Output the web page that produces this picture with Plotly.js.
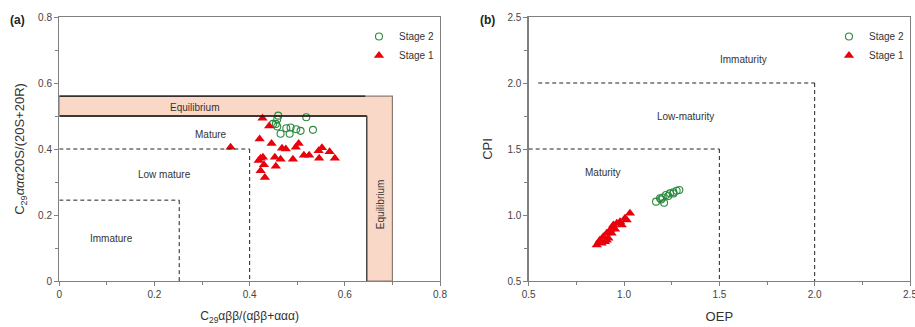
<!DOCTYPE html>
<html>
<head>
<meta charset="utf-8">
<script src="https://cdn.plot.ly/plotly-3.0.1.min.js"></script>
<style>html,body{margin:0;padding:0;background:#fff;}#chart{width:915px;height:327px;}</style>
</head>
<body>
<div id="chart"></div>
<script>
// ---- Panel (a): sterane isomerisation ratios ----
const aStage2X = [0.460, 0.458, 0.455, 0.458, 0.449, 0.519, 0.465, 0.477, 0.486, 0.484, 0.498, 0.507, 0.533];
const aStage2Y = [0.501, 0.490, 0.476, 0.468, 0.476, 0.496, 0.446, 0.463, 0.465, 0.446, 0.460, 0.455, 0.458];
const aStage1X = [0.427, 0.441, 0.421, 0.446, 0.468, 0.476, 0.497, 0.503, 0.423, 0.428, 0.430, 0.423, 0.432,
                  0.453, 0.455, 0.465, 0.491, 0.514, 0.525, 0.545, 0.552, 0.568, 0.579, 0.546, 0.360, 0.419];
const aStage1Y = [0.493, 0.470, 0.430, 0.417, 0.402, 0.400, 0.405, 0.417, 0.372, 0.375, 0.352, 0.334, 0.314,
                  0.375, 0.348, 0.369, 0.369, 0.381, 0.381, 0.395, 0.404, 0.392, 0.372, 0.372, 0.405, 0.365];

// ---- Panel (b): OEP vs CPI ----
const bStage2X = [1.168, 1.189, 1.210, 1.220, 1.241, 1.259, 1.276, 1.290, 1.232, 1.203, 1.259, 1.195];
const bStage2Y = [1.101, 1.127, 1.093, 1.152, 1.164, 1.172, 1.184, 1.189, 1.144, 1.133, 1.163, 1.118];
const bStage1X = [0.857, 0.874, 0.891, 0.909, 0.927, 0.944, 0.962, 0.979, 1.005, 1.031, 0.900, 0.918,
                  0.935, 0.953, 0.988, 0.883, 1.014, 0.909, 0.935, 0.870];
const bStage1Y = [0.773, 0.811, 0.836, 0.861, 0.886, 0.924, 0.937, 0.949, 0.975, 1.013, 0.798, 0.823,
                  0.861, 0.892, 0.924, 0.786, 0.962, 0.809, 0.897, 0.800];

// ---- zone boundaries ----
const aEqInner = 0.50, aEqOuter = 0.56, aEqXInner = 0.646, aEqXOuter = 0.70;
const aMatureY = 0.40, aMatureX = 0.40;
const aImmY = 0.245, aImmX = 0.252;
const bImmY = 2.0, bImmX = 2.0, bImmStart = 0.55;
const bMatY = 1.5, bMatX = 1.5;

const aTicks = [0, 0.2, 0.4, 0.6, 0.8];
const bTicks = [0.5, 1.0, 1.5, 2.0, 2.5];

const W = 915, H = 327;
const red = '#e8000b', green = '#2b8a3e';
const axisCol = '#808080';
const font = 'Liberation Sans, Arial, sans-serif';

function axisBase(dom, range, ticks, minorStep, fmt) {
  return {
    domain: dom, range: range, tickvals: ticks, ticktext: ticks.map(v => fmt ? v.toFixed(1) : String(v)),
    showgrid: false, zeroline: false, showline: true, mirror: true,
    linecolor: axisCol, linewidth: 1.3, ticks: 'outside', ticklen: 4, tickcolor: axisCol, tickwidth: 1,
    tickfont: {family: font, size: 10, color: '#444'}, ticklabeloverflow: 'allow',
    minor: {dtick: minorStep, ticks: 'outside', ticklen: 3, tickcolor: axisCol, showgrid: false},
    fixedrange: true
  };
}

const traces = [
  {x: aStage2X, y: aStage2Y, xaxis: 'x', yaxis: 'y', mode: 'markers', name: 'Stage 2', legend: 'legend',
   marker: {symbol: 'circle-open', size: 7, color: green, line: {width: 1.1, color: green}}},
  {x: aStage1X, y: aStage1Y, xaxis: 'x', yaxis: 'y', mode: 'markers', name: 'Stage 1', legend: 'legend',
   marker: {symbol: 'triangle-up', size: 9, color: red, line: {width: 0}}},
  {x: bStage2X, y: bStage2Y, xaxis: 'x2', yaxis: 'y2', mode: 'markers', name: 'Stage 2', legend: 'legend2',
   marker: {symbol: 'circle-open', size: 7, color: green, line: {width: 1.1, color: green}}},
  {x: bStage1X, y: bStage1Y, xaxis: 'x2', yaxis: 'y2', mode: 'markers', name: 'Stage 1', legend: 'legend2',
   marker: {symbol: 'triangle-up', size: 9, color: red, line: {width: 0}}}
];

const dashLine = {color: '#222', width: 1, dash: '4px,3px'};
const shapes = [
  // equilibrium band (L shape)
  {type: 'path', xref: 'x', yref: 'y', layer: 'below',
   path: `M0,${aEqInner} L${aEqXInner},${aEqInner} L${aEqXInner},0 L${aEqXOuter},0 L${aEqXOuter},${aEqOuter} L0,${aEqOuter} Z`,
   fillcolor: '#f9d8c8', line: {color: '#8a7a72', width: 1.2}},
  {type: 'line', xref: 'x', yref: 'y', x0: 0, x1: aEqXInner - 0.003, y0: aEqOuter, y1: aEqOuter, line: {color: '#111', width: 1.3}},
  {type: 'line', xref: 'x', yref: 'y', x0: 0, x1: aEqXInner, y0: aEqInner, y1: aEqInner, line: {color: '#111', width: 1.3}},
  {type: 'line', xref: 'x', yref: 'y', x0: aEqXInner, x1: aEqXInner, y0: aEqInner, y1: 0, line: {color: '#444', width: 1.3}},
  // mature / low mature / immature
  {type: 'line', xref: 'x', yref: 'y', x0: 0, x1: aMatureX, y0: aMatureY, y1: aMatureY, line: dashLine},
  {type: 'line', xref: 'x', yref: 'y', x0: aMatureX, x1: aMatureX, y0: aMatureY, y1: 0, line: dashLine},
  {type: 'line', xref: 'x', yref: 'y', x0: 0, x1: aImmX, y0: aImmY, y1: aImmY, line: dashLine},
  {type: 'line', xref: 'x', yref: 'y', x0: aImmX, x1: aImmX, y0: aImmY, y1: 0, line: dashLine},
  // panel b
  {type: 'line', xref: 'x2', yref: 'y2', x0: bImmStart, x1: bImmX, y0: bImmY, y1: bImmY, line: dashLine},
  {type: 'line', xref: 'x2', yref: 'y2', x0: bImmX, x1: bImmX, y0: bImmY, y1: 0.5, line: dashLine},
  {type: 'line', xref: 'x2', yref: 'y2', x0: 0.5, x1: bMatX, y0: bMatY, y1: bMatY, line: dashLine},
  {type: 'line', xref: 'x2', yref: 'y2', x0: bMatX, x1: bMatX, y0: bMatY, y1: 0.5, line: dashLine}
];

const lblFont = {family: font, size: 10, color: '#333'};
function lbl(xref, yref, x, y, text, extra) {
  return Object.assign({xref: xref, yref: yref, x: x, y: y, text: text, showarrow: false, font: lblFont}, extra || {});
}
const annotations = [
  lbl('x', 'y', 0.284, 0.527, 'Equilibrium'),
  lbl('x', 'y', 0.318, 0.444, 'Mature'),
  lbl('x', 'y', 0.222, 0.322, 'Low mature'),
  lbl('x', 'y', 0.110, 0.128, 'Immature'),
  lbl('x', 'y', 0.674, 0.230, 'Equilibrium', {textangle: -90}),
  lbl('x2', 'y2', 1.626, 2.176, 'Immaturity'),
  lbl('x2', 'y2', 1.320, 1.746, 'Low-maturity'),
  lbl('x2', 'y2', 0.892, 1.320, 'Maturity'),
  {xref: 'paper', yref: 'paper', x: 17 / W, y: (281 - 20) / 264, xanchor: 'center', yanchor: 'middle',
   text: '<b>(a)</b>', showarrow: false, font: {family: font, size: 12, color: '#222'}},
  {xref: 'paper', yref: 'paper', x: 487 / W, y: (281 - 20) / 264, xanchor: 'center', yanchor: 'middle',
   text: '<b>(b)</b>', showarrow: false, font: {family: font, size: 12, color: '#222'}}
];

const xa = axisBase([59.3 / W, 440 / W], [0, 0.8], aTicks, 0.1, false);
xa.title = {text: 'C<sub>29</sub>αββ/(αββ+ααα)', font: {family: font, size: 12, color: '#333'}, standoff: 12};
const ya = axisBase([0, 1], [0, 0.8], aTicks, 0.1, false);
ya.anchor = 'x';
ya.title = {text: 'C<sub>29</sub><i>ααα</i>20S/(20S+20R)', font: {family: font, size: 13, color: '#333'}, standoff: 10};
const xb = axisBase([528.7 / W, 910 / W], [0.5, 2.5], bTicks, 0.25, true);
xb.anchor = 'y2';
xb.title = {text: 'OEP', font: {family: font, size: 13, color: '#333'}, standoff: 12};
const yb = axisBase([0, 1], [0.5, 2.5], bTicks, 0.25, true);
yb.anchor = 'x2';
yb.title = {text: 'CPI', font: {family: font, size: 13, color: '#333'}, standoff: 12};

const legendBase = {
  xanchor: 'left', yanchor: 'top', y: (281 - 22) / 264, bgcolor: 'rgba(0,0,0,0)',
  font: {family: font, size: 10, color: '#333'}, tracegroupgap: 0, itemwidth: 30
};

const layout = {
  width: W, height: H,
  margin: {l: 0, r: 0, t: 17, b: 46},
  paper_bgcolor: '#fff', plot_bgcolor: '#fff',
  showlegend: true,
  legend: Object.assign({}, legendBase, {x: 359 / W}),
  legend2: Object.assign({}, legendBase, {x: 829 / W}),
  xaxis: xa, yaxis: ya, xaxis2: xb, yaxis2: yb,
  shapes: shapes, annotations: annotations
};

Plotly.newPlot('chart', traces, layout, {displayModeBar: false, staticPlot: true});
</script>
</body>
</html>
